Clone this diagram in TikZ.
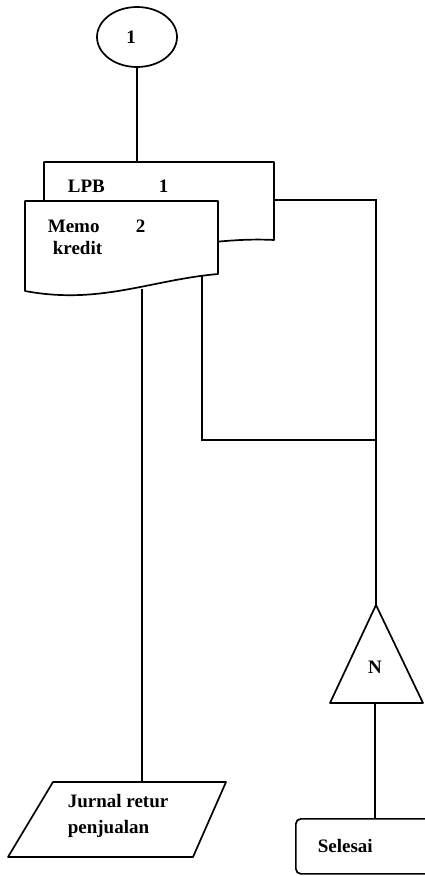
\documentclass[tikz,border=0pt]{standalone}
\usepackage{fontspec}
\setmainfont{Liberation Serif}
\usetikzlibrary{positioning, shapes.geometric}

\begin{document}
\begin{tikzpicture}[
      x=1pt, y=-1pt,
      line width=1.7pt,
      txt/.style={font=\fontsize{19}{23}\selectfont\bfseries, inner sep=0pt, anchor=west, align=left},
      doc/.style={draw, fill=white, line join=round},
      flow/.style={draw, line join=miter}
    ]
      \useasboundingbox (0,0) rectangle (425,876);
      % connector on page
      \node[draw, ellipse, minimum width=80pt, minimum height=60pt] (conn) at (137,37) {};
      \node[txt, anchor=center] (connlbl) at (131,37) {1};
      % documents
      \draw[doc] (44,250) -- (44,162) coordinate (lpbtl) -- (274,162) -- (274,240)
        .. controls (200,236) and (130,262) .. (44,250) -- cycle;
      \node[txt] (lpb) at (67,186) {LPB};
      \node[txt] (lpbno) at (158,186) {1};
      \draw[doc] (25,291) -- (25,201) -- (218,201) -- (218,274)
        .. controls (150,280) and (100,305) .. (25,291) -- cycle;
      \node[txt] (memo) at (47,237) {Memo\\[-1pt]\hspace{5pt}kredit};
      \node[txt] (memono) at (135,226) {2};
      \coordinate (lpbtop) at (137,162);
      \coordinate (lpbr) at (274,200);
      \coordinate (memob) at (142,289);
      \coordinate (memor) at (202,276);
      % journal
      \draw[doc] (53,782) -- (226,782) -- (193,857) -- (8,857) -- cycle;
      \node[txt] (jurnal) at (67,816) {Jurnal retur\\[3pt]penjualan};
      \coordinate (jurtop) at (142,782);
      % offline file
      \draw[doc] (376,605) coordinate (tritop) -- (423,703) -- (330,703) -- cycle;
      \coordinate (tribase) at (375,703);
      \node[txt, anchor=center] (arsip) at (375,667) {N};
      % end
      \node[draw, rounded corners=5pt, anchor=north west, text width=150pt, inner xsep=22pt,
        minimum height=55pt, font=\fontsize{19}{23}\selectfont\bfseries] (selesai) at (295,818) {Selesai};
      % lines
      \draw[flow] (conn.south) -- (conn.south |- lpbtop);
      \draw[flow] (memob) -- (jurtop);
      \draw[flow] (lpbr) -| (tritop);
      \draw[flow] (memor) |- (376,440);
      \draw[flow] (tribase) -- (tribase |- selesai.north);
    \end{tikzpicture}
\end{document}
